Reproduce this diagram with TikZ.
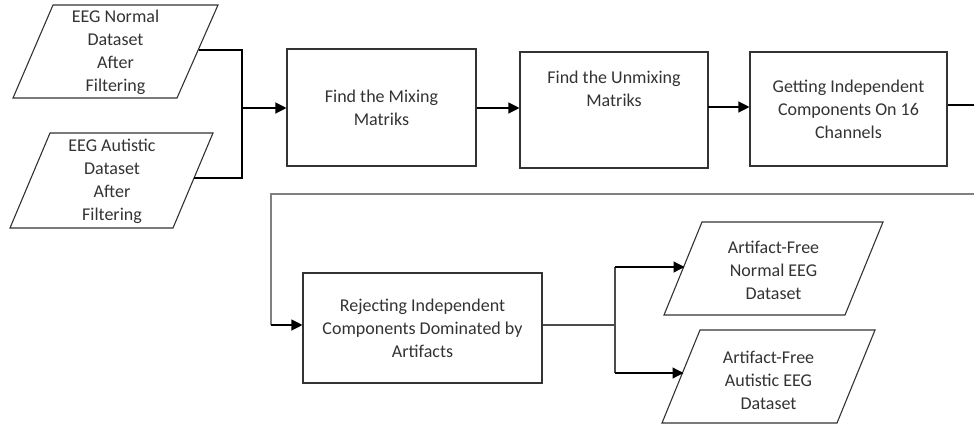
\documentclass[tikz,border=0pt]{standalone}
\usepackage{fontspec}
\setmainfont{Carlito}
\usetikzlibrary{arrows.meta}
\begin{document}
\begin{tikzpicture}[x=1pt,y=-1pt,
  txt/.style={align=center,font=\fontsize{18}{23}\selectfont,text=black!80,inner sep=0pt},
  stepbox/.style={draw=black!80,line width=1.1pt,align=center,font=\fontsize{18}{23}\selectfont,text=black!80,inner sep=0pt},
  para/.style={draw=black!80,line width=1.1pt,line join=miter},
  conn/.style={draw=black,line width=1.2pt},
  arr/.style={conn,-{Triangle[length=11pt,width=11pt]}},
  gconn/.style={draw=black!50,line width=1.3pt}
]
\useasboundingbox (0,0) rectangle (974,426);

% input parallelograms
\draw[para] (53,5) -- (218,5) -- (177,98) -- (13,98) -- cycle;
\node[txt] (p1) at (115.5,52) {EEG Normal\\Dataset\\After\\Filtering};
\coordinate (p1e) at (198.6,50);
\draw[para] (50,133) -- (213,133) -- (173,228) -- (10,228) -- cycle;
\node[txt] (p2) at (112,181) {EEG Autistic\\Dataset\\After\\Filtering};
\coordinate (p2e) at (194,178);

% process boxes
\node[stepbox,minimum width=189pt,minimum height=117pt] (b1) at (381.5,107.5) {Find the Mixing\\Matriks};
\node[stepbox,minimum width=188pt,minimum height=116pt] (b2) at (614,110) {};
\node[txt] (b2t) at (614,88.5) {Find the Unmixing\\Matriks};
\node[stepbox,minimum width=197pt,minimum height=114pt] (b3) at (848.5,109) {Getting Independent\\Components On 16\\Channels};
\node[stepbox,minimum width=239pt,minimum height=110pt] (b4) at (422.5,328) {Rejecting Independent\\Components Dominated by\\Artifacts};

% output parallelograms
\draw[para] (702,222) -- (883,222) -- (845,315) -- (664,315) -- cycle;
\node[txt] (p3) at (773.5,270) {Artifact-Free\\Normal EEG\\Dataset};
\coordinate (p3w) at (684.5,267);
\draw[para] (700,330) -- (875,330) -- (837,423) -- (662,423) -- cycle;
\node[txt] (p4) at (768.5,380) {Artifact-Free\\Autistic EEG\\Dataset};
\coordinate (p4w) at (683.5,373);

% connectors
\coordinate (j1) at (242,108);
\draw[conn] (p1e) -| (j1);
\draw[conn] (p2e) -| (j1);
\draw[arr] (j1) -- (j1 -| b1.west);
\draw[arr] (b1.east |- j1) -- (j1 -| b2.west);
\coordinate (a3) at (708,107);
\draw[arr] (a3) -- (a3 -| b3.west);
\coordinate (r1) at (974,105);
\draw[conn] (b3.east |- r1) -- (r1);
\coordinate (r2) at (974,194);
\coordinate (r3) at (271,194);
\draw[gconn] (r2) -- (r3) -- (r3 |- 0,325);
\draw[arr] (r3 |- 0,325) -- (b4.west |- 0,325);
\coordinate (j2) at (615,325);
\draw[conn,draw=black!70] (b4.east |- j2) -- (j2);
\draw[conn,draw=black!70] (j2 |- p3w) -- (j2 |- p4w);
\draw[arr] (j2 |- p3w) -- (p3w);
\draw[arr] (j2 |- p4w) -- (p4w);
\end{tikzpicture}
\end{document}
